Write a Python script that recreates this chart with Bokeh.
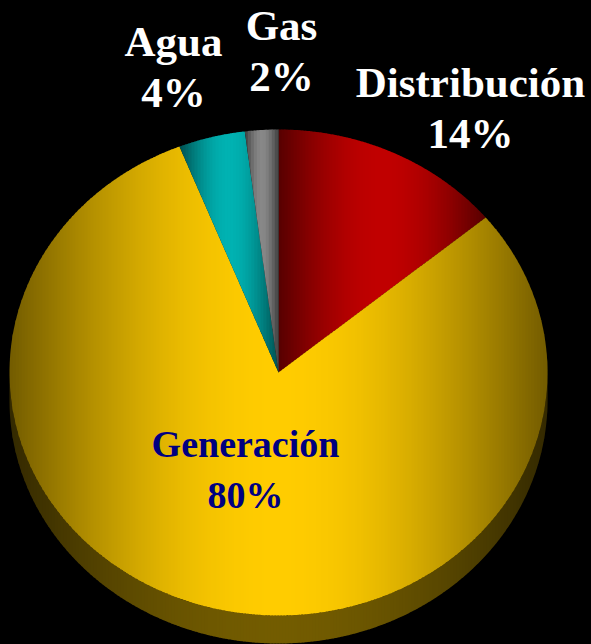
import numpy as np
from bokeh.plotting import figure
from bokeh.models import Range1d, ColumnDataSource
from bokeh.core.properties import value
from bokeh.embed import file_html
from bokeh.resources import INLINE

# ---- data ----
categories = ["Distribución", "Generación", "Agua", "Gas"]
shares = [14, 80, 4, 2]

# ---- styles / layout ----
base_colors = [(192, 0, 0), (255, 204, 0), (0, 178, 178), (136, 136, 136)]
label_colors = ["white", "#000080", "white", "white"]
label_sizes = ["43px", "38px", "43px", "43px"]
label_anchor = [(470, 82), (245, 443), (173, 41), (281, 25)]  # centre x, first-line anchor
LINE_GAP = 51
CX, CY, RX, RY, DEPTH = 278, 372, 269, 243, 28
LO = 0.45
SIDE = 0.45
STEP = 3.0
W, H = 591, 644


def arc(a0, a1, dy=0.0, n=None):
    if n is None:
        n = max(4, int(abs(a1 - a0) * 2))
    th = np.radians(np.linspace(a0, a1, n))
    return [(CX + RX * np.sin(t), CY - RY * np.cos(t) + dy) for t in th]


def clip_half(pts, keep, inter):
    out = []
    for i in range(len(pts)):
        cur, prev = pts[i], pts[i - 1]
        if keep(cur):
            if not keep(prev):
                out.append(inter(prev, cur))
            out.append(cur)
        elif keep(prev):
            out.append(inter(prev, cur))
    return out


def xint(a, b, xc):
    if b[0] == a[0]:
        return (xc, a[1])
    t = (xc - a[0]) / (b[0] - a[0])
    return (xc, a[1] + t * (b[1] - a[1]))


def clip_strip(pts, x0, x1):
    pts = clip_half(pts, lambda q: q[0] >= x0, lambda a, b: xint(a, b, x0))
    if not pts:
        return pts
    pts = clip_half(pts, lambda q: q[0] <= x1, lambda a, b: xint(a, b, x1))
    return pts


def hexcol(rgb, f):
    r, g, b = [int(max(0, min(255, round(c * f)))) for c in rgb]
    return "#%02x%02x%02x" % (r, g, b)


def shaded_strips(poly, rgb, factor, xmin, xmax):
    xs_out, ys_out, cols = [], [], []
    x = xmin
    while x < xmax:
        x1 = min(x + STEP, xmax)
        piece = clip_strip(poly, x, x1 + 0.7)
        if len(piece) >= 3:
            t = ((x + x1) / 2 - xmin) / (xmax - xmin)
            f = (LO + (1 - LO) * np.sin(np.pi * t)) * factor
            xs_out.append([q[0] for q in piece])
            ys_out.append([q[1] for q in piece])
            cols.append(hexcol(rgb, f))
        x = x1
    return xs_out, ys_out, cols


p = figure(width=W, height=H, x_range=Range1d(0, W), y_range=Range1d(H, 0),
           output_backend="svg", toolbar_location=None, min_border=0,
           x_axis_location=None, y_axis_location=None,
           background_fill_color="black", border_fill_color="black",
           outline_line_color=None)
p.grid.visible = False

total = float(sum(shares))
bounds = np.concatenate([[0], np.cumsum(shares)]) / total * 360.0

# side (front, visible lower half of the rim)
for i, rgb in enumerate(base_colors):
    a0, a1 = max(bounds[i], 90.0), min(bounds[i + 1], 270.0)
    if a1 <= a0:
        continue
    top_poly = [(CX, CY)] + arc(bounds[i], bounds[i + 1])
    xmin = min(q[0] for q in top_poly)
    xmax = max(q[0] for q in top_poly)
    band = arc(a0, a1) + arc(a1, a0, dy=DEPTH)
    xs, ys, cols = shaded_strips(band, rgb, SIDE, xmin, xmax)
    p.patches(xs, ys, fill_color=cols, line_color=None)

# top faces
for i, rgb in enumerate(base_colors):
    poly = [(CX, CY)] + arc(bounds[i], bounds[i + 1])
    xmin = min(q[0] for q in poly)
    xmax = max(q[0] for q in poly)
    xs, ys, cols = shaded_strips(poly, rgb, 1.0, xmin, xmax)
    p.patches(xs, ys, fill_color=cols, line_color=None)

# labels
lx, ly, lt, lc, ls = [], [], [], [], []
for cat, sh, col, sz, (ax, ay) in zip(categories, shares, label_colors, label_sizes, label_anchor):
    lx += [ax, ax]
    ly += [ay, ay + LINE_GAP]
    lt += [cat, f"{sh}%"]
    lc += [col, col]
    ls += [sz, sz]
src = ColumnDataSource(dict(x=lx, y=ly, text=lt, color=lc, size=ls))
p.text(x="x", y="y", text="text", source=src, text_color="color",
       text_font=value("Liberation Serif"), text_font_style="bold",
       text_font_size="size", text_align="center", text_baseline="alphabetic")

html = file_html(p, INLINE)
html = html.replace("<head>", "<head><style>body{background:#000;}</style>", 1)
open("out.html", "w").write(html)
